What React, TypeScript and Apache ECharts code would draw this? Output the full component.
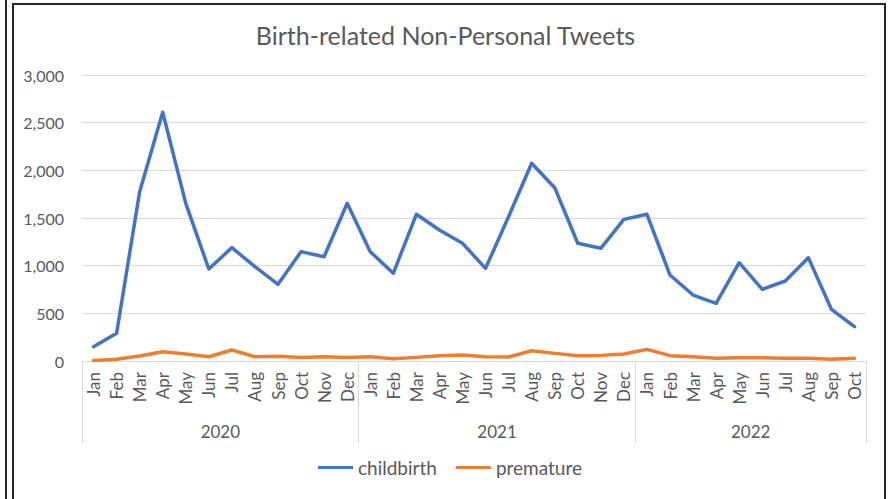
import React, { useEffect, useRef } from "react";
import * as echarts from "echarts";

const monthNames = ["Jan", "Feb", "Mar", "Apr", "May", "Jun", "Jul", "Aug", "Sep", "Oct", "Nov", "Dec"];
const years = ["2020", "2021", "2022"];
const monthsPerYear = [12, 12, 10];

const childbirth = [
  150, 290, 1776, 2609, 1654, 965, 1189, 990, 804, 1147, 1094, 1654,
  1147, 920, 1539, 1374, 1235, 972, 1514, 2074, 1818, 1235, 1182, 1486,
  1539, 902, 692, 605, 1031, 752, 839, 1084, 542, 360,
];
const premature = [
  5, 18, 52, 98, 73, 45, 115, 45, 49, 38, 45, 38,
  45, 24, 38, 56, 63, 45, 42, 108, 80, 56, 59, 73,
  122, 56, 45, 28, 35, 35, 28, 28, 18, 28,
];

const yTicks = { min: 0, max: 3000, interval: 500 };

export default function App() {
  const ref = useRef<HTMLDivElement>(null);
  useEffect(() => {
    if (!ref.current) return;
    const chart = echarts.init(ref.current, null, { renderer: "svg" });

    const monthCats: string[] = [];
    monthsPerYear.forEach((n) => {
      for (let i = 0; i < n; i++) monthCats.push(monthNames[i]);
    });
    const total = monthCats.length;
    // half-month slots for the year level
    const halfCats: string[] = new Array(total * 2 + 1).fill("");
    const boundaries = new Set<number>([0]);
    let acc = 0;
    monthsPerYear.forEach((n, k) => {
      halfCats[acc * 2 + n] = years[k];
      acc += n;
      boundaries.add(acc * 2);
    });

    const font = "Lato, 'Open Sans', sans-serif";
    const gray = "#595959";
    const lineGray = "#d9d9d9";

    chart.setOption({
      animation: false,
      backgroundColor: "#ffffff",
      title: {
        text: "Birth-related Non-Personal Tweets",
        left: "center",
        top: 17,
        textStyle: { fontFamily: font, fontSize: 25, fontWeight: "normal", color: gray },
      },
      legend: {
        bottom: 17,
        left: 313,
        icon: "rect",
        itemWidth: 35,
        itemHeight: 3,
        itemGap: 19,
        textStyle: { fontFamily: font, fontSize: 19, color: gray },
        data: ["childbirth", "premature"],
      },
      grid: { left: 82, right: 25, top: 75, bottom: 138, containLabel: false },
      xAxis: [
        {
          type: "category",
          data: monthCats,
          boundaryGap: true,
          axisLine: { show: true, lineStyle: { color: lineGray, width: 1 } },
          axisTick: { show: false },
          axisLabel: {
            rotate: 90,
            interval: 0,
            margin: 11,
            fontFamily: font,
            fontSize: 17,
            color: gray,
          },
        },
        {
          type: "category",
          data: halfCats,
          boundaryGap: false,
          position: "bottom",
          axisLine: { show: false },
          axisTick: {
            show: true,
            length: 82,
            interval: (i: number) => boundaries.has(i),
            lineStyle: { color: lineGray, width: 1 },
          },
          axisLabel: {
            interval: 0,
            margin: 62,
            fontFamily: font,
            fontSize: 17,
            color: gray,
          },
        },
      ],
      yAxis: {
        type: "value",
        min: yTicks.min,
        max: yTicks.max,
        interval: yTicks.interval,
        axisLine: { show: false },
        axisTick: { show: false },
        splitLine: { lineStyle: { color: lineGray, width: 1 } },
        axisLabel: {
          margin: 18,
          fontFamily: font,
          fontSize: 16,
          color: gray,
          formatter: (v: number) => v.toLocaleString("en-US"),
        },
      },
      series: [
        {
          name: "childbirth",
          type: "line",
          data: childbirth,
          symbol: "none",
          color: "#4472C4",
          lineStyle: { width: 3.5, color: "#4472C4", cap: "round", join: "round" },
        },
        {
          name: "premature",
          type: "line",
          data: premature,
          symbol: "none",
          color: "#ED7D31",
          lineStyle: { width: 3.5, color: "#ED7D31", cap: "round", join: "round" },
        },
      ],
      graphic: [
        { type: "rect", shape: { x: 5, y: 0, width: 2, height: 499 }, style: { fill: "#262626" } },
        { type: "rect", shape: { x: 12, y: 3, width: 2, height: 496 }, style: { fill: "#262626" } },
        { type: "rect", shape: { x: 12, y: 3, width: 874, height: 2 }, style: { fill: "#262626" } },
        { type: "rect", shape: { x: 884, y: 3, width: 2, height: 496 }, style: { fill: "#262626" } },
      ],
    });
    return () => chart.dispose();
  }, []);
  return (
    <div
      ref={ref}
      style={{ position: "fixed", left: 0, top: 0, width: 891, height: 499, background: "#fff" }}
    />
  );
}
